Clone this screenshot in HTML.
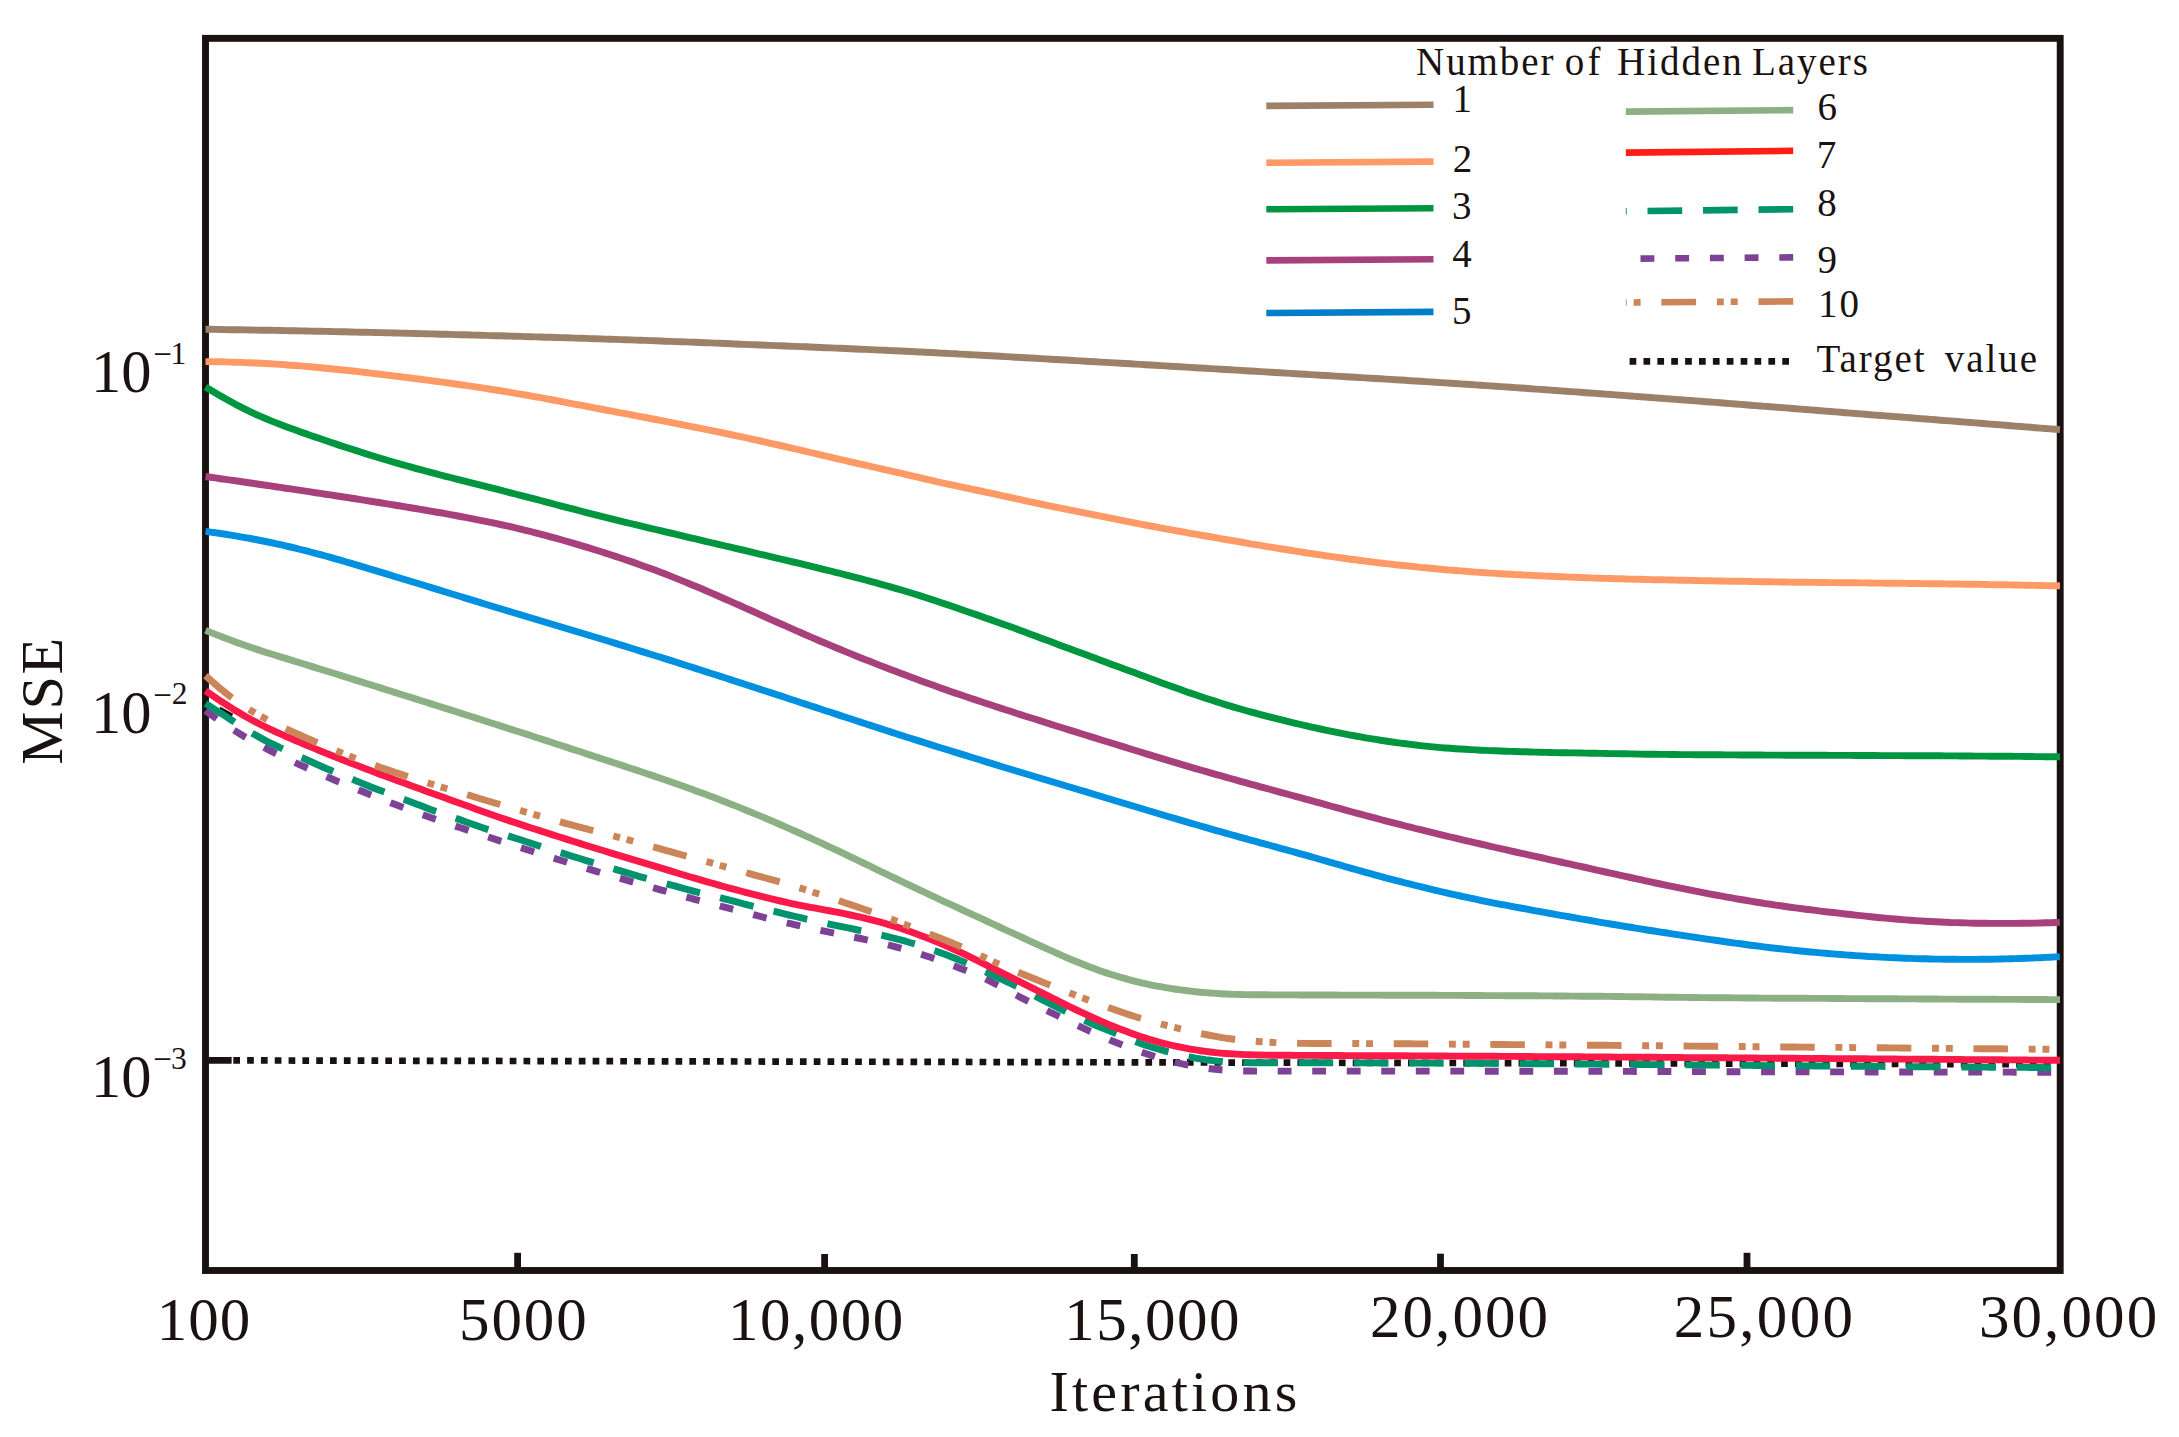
<!DOCTYPE html>
<html lang="en"><head><meta charset="utf-8"><title>MSE vs Iterations</title>
<style>html,body{margin:0;padding:0;background:#fff}svg{display:block}text{font-family:"Liberation Serif","Times New Roman",serif;fill:#1a1210}</style></head><body>
<svg width="2179" height="1437" viewBox="0 0 2179 1437">
<rect width="2179" height="1437" fill="#fff"/>
<rect x="205.5" y="38.35" width="1854.7" height="1232.15" fill="none" stroke="#1a1210" stroke-width="6.9"/>
<line x1="517.6" y1="1268" x2="517.6" y2="1252.8" stroke="#1a1210" stroke-width="6.8"/>
<line x1="824.6" y1="1268" x2="824.6" y2="1254.0" stroke="#1a1210" stroke-width="6.8"/>
<line x1="1134.3" y1="1268" x2="1134.3" y2="1254.0" stroke="#1a1210" stroke-width="6.8"/>
<line x1="1440.5" y1="1268" x2="1440.5" y2="1253.7" stroke="#1a1210" stroke-width="6.8"/>
<line x1="1747.0" y1="1268" x2="1747.0" y2="1252.8" stroke="#1a1210" stroke-width="6.8"/>
<line x1="207" y1="1060.4" x2="231.6" y2="1060.45" stroke="#1a1210" stroke-width="6.8"/>
<line x1="233.3" y1="1060.4" x2="2057" y2="1064.3" stroke="#1a1210" stroke-width="6.7" stroke-dasharray="6.7 7.12"/>
<line x1="219.5" y1="708.6" x2="232.2" y2="715.7" stroke="#1a1210" stroke-width="4.2"/>
<g fill="none" stroke-width="6.94" stroke-linejoin="round">
<path d="M205.5 329.3L210.5 329.3L215.5 329.4L220.5 329.5L225.5 329.6L230.5 329.7L235.5 329.7L240.5 329.8L245.5 329.9L250.5 330.0L255.5 330.1L260.5 330.2L265.5 330.3L270.5 330.3L275.5 330.4L280.5 330.5L285.5 330.6L290.5 330.7L295.5 330.8L300.5 330.9L305.5 331.0L310.5 331.1L315.5 331.2L320.5 331.3L325.5 331.4L330.5 331.5L335.5 331.6L340.5 331.7L345.5 331.8L350.5 332.0L355.5 332.1L360.5 332.2L365.5 332.3L370.5 332.4L375.5 332.5L380.5 332.6L385.5 332.8L390.5 332.9L395.5 333.0L400.5 333.1L405.5 333.3L410.5 333.4L415.5 333.5L420.5 333.6L425.5 333.8L430.5 333.9L435.5 334.0L440.5 334.2L445.5 334.3L450.5 334.4L455.5 334.6L460.5 334.7L465.5 334.8L470.5 335.0L475.5 335.1L480.5 335.3L485.5 335.4L490.5 335.6L495.5 335.7L500.5 335.8L505.5 336.0L510.5 336.1L515.5 336.3L520.5 336.4L525.5 336.6L530.5 336.7L535.5 336.9L540.5 337.0L545.5 337.2L550.5 337.3L555.5 337.5L560.5 337.6L565.5 337.8L570.5 337.9L575.5 338.1L580.5 338.3L585.5 338.4L590.5 338.6L595.5 338.7L600.5 338.9L605.5 339.1L610.5 339.2L615.5 339.4L620.5 339.6L625.5 339.7L630.5 339.9L635.5 340.1L640.5 340.3L645.5 340.4L650.5 340.6L655.5 340.8L660.5 341.0L665.5 341.2L670.5 341.4L675.5 341.6L680.5 341.8L685.5 341.9L690.5 342.1L695.5 342.3L700.5 342.5L705.5 342.7L710.5 342.9L715.5 343.1L720.5 343.3L725.5 343.5L730.5 343.8L735.5 344.0L740.5 344.2L745.5 344.4L750.5 344.6L755.5 344.8L760.5 345.0L765.5 345.2L770.5 345.4L775.5 345.6L780.5 345.8L785.5 346.0L790.5 346.2L795.5 346.4L800.5 346.6L805.5 346.8L810.5 347.0L815.5 347.2L820.5 347.5L825.5 347.7L830.5 347.9L835.5 348.1L840.5 348.3L845.5 348.5L850.5 348.7L855.5 349.0L860.5 349.2L865.5 349.4L870.5 349.6L875.5 349.9L880.5 350.1L885.5 350.3L890.5 350.6L895.5 350.8L900.5 351.0L905.5 351.3L910.5 351.5L915.5 351.8L920.5 352.0L925.5 352.3L930.5 352.5L935.5 352.8L940.5 353.1L945.5 353.3L950.5 353.6L955.5 353.8L960.5 354.1L965.5 354.4L970.5 354.7L975.5 354.9L980.5 355.2L985.5 355.5L990.5 355.8L995.5 356.0L1000.5 356.3L1005.5 356.6L1010.5 356.9L1015.5 357.2L1020.5 357.5L1025.5 357.8L1030.5 358.0L1035.5 358.3L1040.5 358.6L1045.5 358.9L1050.5 359.2L1055.5 359.5L1060.5 359.8L1065.5 360.0L1070.5 360.3L1075.5 360.6L1080.5 360.9L1085.5 361.2L1090.5 361.5L1095.5 361.8L1100.5 362.1L1105.5 362.4L1110.5 362.6L1115.5 362.9L1120.5 363.2L1125.5 363.5L1130.5 363.8L1135.5 364.1L1140.5 364.4L1145.5 364.7L1150.5 365.0L1155.5 365.3L1160.5 365.6L1165.5 365.9L1170.5 366.2L1175.5 366.5L1180.5 366.8L1185.5 367.1L1190.5 367.4L1195.5 367.7L1200.5 368.0L1205.5 368.3L1210.5 368.6L1215.5 368.9L1220.5 369.2L1225.5 369.5L1230.5 369.8L1235.5 370.1L1240.5 370.4L1245.5 370.7L1250.5 371.0L1255.5 371.3L1260.5 371.6L1265.5 371.9L1270.5 372.2L1275.5 372.5L1280.5 372.8L1285.5 373.1L1290.5 373.4L1295.5 373.7L1300.5 374.0L1305.5 374.3L1310.5 374.6L1315.5 374.9L1320.5 375.2L1325.5 375.5L1330.5 375.8L1335.5 376.1L1340.5 376.4L1345.5 376.7L1350.5 377.0L1355.5 377.3L1360.5 377.6L1365.5 377.9L1370.5 378.2L1375.5 378.5L1380.5 378.8L1385.5 379.1L1390.5 379.4L1395.5 379.7L1400.5 380.0L1405.5 380.3L1410.5 380.7L1415.5 381.0L1420.5 381.3L1425.5 381.6L1430.5 381.9L1435.5 382.2L1440.5 382.6L1445.5 382.9L1450.5 383.2L1455.5 383.5L1460.5 383.9L1465.5 384.2L1470.5 384.5L1475.5 384.9L1480.5 385.2L1485.5 385.6L1490.5 385.9L1495.5 386.2L1500.5 386.6L1505.5 386.9L1510.5 387.3L1515.5 387.6L1520.5 388.0L1525.5 388.3L1530.5 388.7L1535.5 389.1L1540.5 389.4L1545.5 389.8L1550.5 390.1L1555.5 390.5L1560.5 390.9L1565.5 391.2L1570.5 391.6L1575.5 391.9L1580.5 392.3L1585.5 392.7L1590.5 393.0L1595.5 393.4L1600.5 393.8L1605.5 394.1L1610.5 394.5L1615.5 394.9L1620.5 395.2L1625.5 395.6L1630.5 396.0L1635.5 396.4L1640.5 396.7L1645.5 397.1L1650.5 397.5L1655.5 397.9L1660.5 398.2L1665.5 398.6L1670.5 399.0L1675.5 399.4L1680.5 399.7L1685.5 400.1L1690.5 400.5L1695.5 400.9L1700.5 401.3L1705.5 401.7L1710.5 402.0L1715.5 402.4L1720.5 402.8L1725.5 403.2L1730.5 403.6L1735.5 404.0L1740.5 404.4L1745.5 404.8L1750.5 405.2L1755.5 405.6L1760.5 406.0L1765.5 406.4L1770.5 406.7L1775.5 407.1L1780.5 407.5L1785.5 407.9L1790.5 408.3L1795.5 408.7L1800.5 409.1L1805.5 409.5L1810.5 409.9L1815.5 410.3L1820.5 410.7L1825.5 411.1L1830.5 411.5L1835.5 411.9L1840.5 412.3L1845.5 412.7L1850.5 413.1L1855.5 413.5L1860.5 413.9L1865.5 414.3L1870.5 414.7L1875.5 415.1L1880.5 415.5L1885.5 415.9L1890.5 416.3L1895.5 416.6L1900.5 417.0L1905.5 417.4L1910.5 417.8L1915.5 418.2L1920.5 418.6L1925.5 419.0L1930.5 419.4L1935.5 419.8L1940.5 420.2L1945.5 420.6L1950.5 420.9L1955.5 421.3L1960.5 421.7L1965.5 422.1L1970.5 422.5L1975.5 422.9L1980.5 423.3L1985.5 423.7L1990.5 424.1L1995.5 424.5L2000.5 424.9L2005.5 425.3L2010.5 425.7L2015.5 426.1L2020.5 426.5L2025.5 426.9L2030.5 427.3L2035.5 427.7L2040.5 428.1L2045.5 428.5L2050.5 428.9L2055.5 429.3L2060.0 429.6" stroke="#9c8068"/>
<path d="M205.5 361.6L210.5 361.6L215.5 361.7L220.5 361.8L225.5 361.9L230.5 362.1L235.5 362.2L240.5 362.4L245.5 362.6L250.5 362.8L255.5 363.0L260.5 363.3L265.5 363.5L270.5 363.8L275.5 364.1L280.5 364.4L285.5 364.8L290.5 365.2L295.5 365.5L300.5 365.9L305.5 366.4L310.5 366.8L315.5 367.2L320.5 367.7L325.5 368.2L330.5 368.7L335.5 369.2L340.5 369.7L345.5 370.2L350.5 370.8L355.5 371.3L360.5 371.9L365.5 372.5L370.5 373.1L375.5 373.7L380.5 374.3L385.5 374.9L390.5 375.5L395.5 376.1L400.5 376.7L405.5 377.4L410.5 378.0L415.5 378.6L420.5 379.3L425.5 379.9L430.5 380.6L435.5 381.3L440.5 381.9L445.5 382.6L450.5 383.3L455.5 384.0L460.5 384.7L465.5 385.4L470.5 386.1L475.5 386.9L480.5 387.6L485.5 388.4L490.5 389.2L495.5 390.0L500.5 390.8L505.5 391.6L510.5 392.4L515.5 393.3L520.5 394.1L525.5 395.0L530.5 395.9L535.5 396.8L540.5 397.7L545.5 398.6L550.5 399.5L555.5 400.5L560.5 401.4L565.5 402.4L570.5 403.3L575.5 404.3L580.5 405.2L585.5 406.2L590.5 407.1L595.5 408.1L600.5 409.0L605.5 410.0L610.5 410.9L615.5 411.9L620.5 412.8L625.5 413.7L630.5 414.7L635.5 415.6L640.5 416.6L645.5 417.5L650.5 418.5L655.5 419.5L660.5 420.4L665.5 421.4L670.5 422.4L675.5 423.3L680.5 424.3L685.5 425.3L690.5 426.3L695.5 427.3L700.5 428.3L705.5 429.3L710.5 430.3L715.5 431.4L720.5 432.4L725.5 433.5L730.5 434.5L735.5 435.6L740.5 436.7L745.5 437.7L750.5 438.8L755.5 439.9L760.5 441.0L765.5 442.1L770.5 443.3L775.5 444.4L780.5 445.5L785.5 446.7L790.5 447.8L795.5 449.0L800.5 450.2L805.5 451.3L810.5 452.5L815.5 453.7L820.5 454.8L825.5 456.0L830.5 457.2L835.5 458.3L840.5 459.5L845.5 460.6L850.5 461.8L855.5 462.9L860.5 464.1L865.5 465.2L870.5 466.3L875.5 467.5L880.5 468.6L885.5 469.8L890.5 470.9L895.5 472.1L900.5 473.2L905.5 474.4L910.5 475.6L915.5 476.7L920.5 477.9L925.5 479.1L930.5 480.2L935.5 481.3L940.5 482.5L945.5 483.6L950.5 484.7L955.5 485.7L960.5 486.8L965.5 487.9L970.5 488.9L975.5 490.0L980.5 491.0L985.5 492.1L990.5 493.1L995.5 494.2L1000.5 495.3L1005.5 496.4L1010.5 497.5L1015.5 498.6L1020.5 499.7L1025.5 500.8L1030.5 501.8L1035.5 502.9L1040.5 504.0L1045.5 505.1L1050.5 506.1L1055.5 507.2L1060.5 508.2L1065.5 509.2L1070.5 510.2L1075.5 511.2L1080.5 512.2L1085.5 513.2L1090.5 514.2L1095.5 515.2L1100.5 516.2L1105.5 517.1L1110.5 518.1L1115.5 519.1L1120.5 520.1L1125.5 521.1L1130.5 522.1L1135.5 523.1L1140.5 524.1L1145.5 525.0L1150.5 526.0L1155.5 526.9L1160.5 527.9L1165.5 528.8L1170.5 529.7L1175.5 530.6L1180.5 531.5L1185.5 532.4L1190.5 533.3L1195.5 534.2L1200.5 535.1L1205.5 536.0L1210.5 536.8L1215.5 537.7L1220.5 538.6L1225.5 539.5L1230.5 540.3L1235.5 541.2L1240.5 542.0L1245.5 542.9L1250.5 543.8L1255.5 544.6L1260.5 545.4L1265.5 546.3L1270.5 547.1L1275.5 547.9L1280.5 548.7L1285.5 549.5L1290.5 550.3L1295.5 551.1L1300.5 551.9L1305.5 552.7L1310.5 553.4L1315.5 554.2L1320.5 554.9L1325.5 555.7L1330.5 556.4L1335.5 557.1L1340.5 557.8L1345.5 558.5L1350.5 559.2L1355.5 559.8L1360.5 560.5L1365.5 561.1L1370.5 561.7L1375.5 562.4L1380.5 563.0L1385.5 563.6L1390.5 564.1L1395.5 564.7L1400.5 565.3L1405.5 565.8L1410.5 566.3L1415.5 566.8L1420.5 567.4L1425.5 567.8L1430.5 568.3L1435.5 568.8L1440.5 569.2L1445.5 569.7L1450.5 570.1L1455.5 570.5L1460.5 570.9L1465.5 571.3L1470.5 571.7L1475.5 572.1L1480.5 572.4L1485.5 572.7L1490.5 573.1L1495.5 573.4L1500.5 573.7L1505.5 574.0L1510.5 574.3L1515.5 574.6L1520.5 574.8L1525.5 575.1L1530.5 575.3L1535.5 575.6L1540.5 575.8L1545.5 576.1L1550.5 576.3L1555.5 576.5L1560.5 576.7L1565.5 576.9L1570.5 577.1L1575.5 577.3L1580.5 577.5L1585.5 577.7L1590.5 577.9L1595.5 578.1L1600.5 578.2L1605.5 578.4L1610.5 578.5L1615.5 578.7L1620.5 578.8L1625.5 579.0L1630.5 579.1L1635.5 579.2L1640.5 579.3L1645.5 579.5L1650.5 579.6L1655.5 579.7L1660.5 579.8L1665.5 579.9L1670.5 580.0L1675.5 580.1L1680.5 580.2L1685.5 580.3L1690.5 580.4L1695.5 580.5L1700.5 580.6L1705.5 580.7L1710.5 580.8L1715.5 580.9L1720.5 581.0L1725.5 581.1L1730.5 581.2L1735.5 581.3L1740.5 581.3L1745.5 581.4L1750.5 581.5L1755.5 581.6L1760.5 581.7L1765.5 581.7L1770.5 581.8L1775.5 581.9L1780.5 582.0L1785.5 582.0L1790.5 582.1L1795.5 582.2L1800.5 582.2L1805.5 582.3L1810.5 582.4L1815.5 582.4L1820.5 582.5L1825.5 582.5L1830.5 582.6L1835.5 582.6L1840.5 582.7L1845.5 582.7L1850.5 582.8L1855.5 582.8L1860.5 582.9L1865.5 582.9L1870.5 583.0L1875.5 583.1L1880.5 583.1L1885.5 583.2L1890.5 583.2L1895.5 583.3L1900.5 583.3L1905.5 583.4L1910.5 583.5L1915.5 583.5L1920.5 583.6L1925.5 583.6L1930.5 583.7L1935.5 583.8L1940.5 583.8L1945.5 583.9L1950.5 584.0L1955.5 584.0L1960.5 584.1L1965.5 584.2L1970.5 584.3L1975.5 584.3L1980.5 584.4L1985.5 584.5L1990.5 584.6L1995.5 584.7L2000.5 584.8L2005.5 584.8L2010.5 584.9L2015.5 585.0L2020.5 585.1L2025.5 585.2L2030.5 585.3L2035.5 585.4L2040.5 585.5L2045.5 585.6L2050.5 585.7L2055.5 585.8L2060.0 585.9" stroke="#ff9966"/>
<path d="M205.5 387.0L210.5 390.0L215.5 392.9L220.5 395.9L225.5 398.7L230.5 401.5L235.5 404.3L240.5 406.9L245.5 409.4L250.5 411.8L255.5 414.2L260.5 416.4L265.5 418.5L270.5 420.6L275.5 422.6L280.5 424.5L285.5 426.4L290.5 428.2L295.5 430.1L300.5 431.9L305.5 433.6L310.5 435.4L315.5 437.1L320.5 438.8L325.5 440.5L330.5 442.2L335.5 443.9L340.5 445.6L345.5 447.2L350.5 448.8L355.5 450.4L360.5 452.0L365.5 453.6L370.5 455.2L375.5 456.7L380.5 458.2L385.5 459.7L390.5 461.2L395.5 462.7L400.5 464.1L405.5 465.5L410.5 466.9L415.5 468.3L420.5 469.7L425.5 471.0L430.5 472.3L435.5 473.7L440.5 475.0L445.5 476.3L450.5 477.5L455.5 478.8L460.5 480.1L465.5 481.4L470.5 482.6L475.5 483.9L480.5 485.1L485.5 486.4L490.5 487.7L495.5 488.9L500.5 490.2L505.5 491.5L510.5 492.8L515.5 494.0L520.5 495.3L525.5 496.6L530.5 497.9L535.5 499.2L540.5 500.5L545.5 501.9L550.5 503.2L555.5 504.5L560.5 505.8L565.5 507.1L570.5 508.4L575.5 509.7L580.5 511.0L585.5 512.3L590.5 513.6L595.5 514.9L600.5 516.2L605.5 517.4L610.5 518.7L615.5 519.9L620.5 521.1L625.5 522.3L630.5 523.5L635.5 524.7L640.5 525.9L645.5 527.1L650.5 528.3L655.5 529.5L660.5 530.7L665.5 531.9L670.5 533.0L675.5 534.2L680.5 535.4L685.5 536.6L690.5 537.8L695.5 538.9L700.5 540.1L705.5 541.3L710.5 542.5L715.5 543.7L720.5 544.8L725.5 546.0L730.5 547.2L735.5 548.4L740.5 549.5L745.5 550.7L750.5 551.9L755.5 553.1L760.5 554.3L765.5 555.4L770.5 556.6L775.5 557.8L780.5 559.0L785.5 560.2L790.5 561.4L795.5 562.5L800.5 563.7L805.5 564.9L810.5 566.1L815.5 567.3L820.5 568.6L825.5 569.8L830.5 571.0L835.5 572.3L840.5 573.5L845.5 574.8L850.5 576.1L855.5 577.4L860.5 578.7L865.5 580.0L870.5 581.4L875.5 582.7L880.5 584.1L885.5 585.5L890.5 586.9L895.5 588.3L900.5 589.8L905.5 591.3L910.5 592.8L915.5 594.3L920.5 595.9L925.5 597.5L930.5 599.1L935.5 600.8L940.5 602.5L945.5 604.1L950.5 605.8L955.5 607.5L960.5 609.3L965.5 611.0L970.5 612.7L975.5 614.4L980.5 616.1L985.5 617.9L990.5 619.6L995.5 621.4L1000.5 623.2L1005.5 625.0L1010.5 626.8L1015.5 628.6L1020.5 630.5L1025.5 632.3L1030.5 634.2L1035.5 636.0L1040.5 637.9L1045.5 639.8L1050.5 641.6L1055.5 643.5L1060.5 645.4L1065.5 647.2L1070.5 649.1L1075.5 650.9L1080.5 652.8L1085.5 654.6L1090.5 656.5L1095.5 658.3L1100.5 660.2L1105.5 662.0L1110.5 663.9L1115.5 665.7L1120.5 667.6L1125.5 669.4L1130.5 671.3L1135.5 673.1L1140.5 675.0L1145.5 676.8L1150.5 678.7L1155.5 680.5L1160.5 682.4L1165.5 684.2L1170.5 686.0L1175.5 687.8L1180.5 689.6L1185.5 691.4L1190.5 693.1L1195.5 694.8L1200.5 696.5L1205.5 698.2L1210.5 699.8L1215.5 701.4L1220.5 703.0L1225.5 704.6L1230.5 706.1L1235.5 707.6L1240.5 709.0L1245.5 710.5L1250.5 711.8L1255.5 713.2L1260.5 714.6L1265.5 715.9L1270.5 717.2L1275.5 718.4L1280.5 719.7L1285.5 720.9L1290.5 722.1L1295.5 723.3L1300.5 724.5L1305.5 725.6L1310.5 726.8L1315.5 727.9L1320.5 729.0L1325.5 730.1L1330.5 731.1L1335.5 732.2L1340.5 733.2L1345.5 734.1L1350.5 735.1L1355.5 736.0L1360.5 736.9L1365.5 737.8L1370.5 738.6L1375.5 739.4L1380.5 740.2L1385.5 741.0L1390.5 741.7L1395.5 742.5L1400.5 743.1L1405.5 743.8L1410.5 744.4L1415.5 745.0L1420.5 745.6L1425.5 746.1L1430.5 746.6L1435.5 747.1L1440.5 747.6L1445.5 748.0L1450.5 748.3L1455.5 748.7L1460.5 749.0L1465.5 749.3L1470.5 749.6L1475.5 749.9L1480.5 750.2L1485.5 750.4L1490.5 750.6L1495.5 750.8L1500.5 751.0L1505.5 751.2L1510.5 751.4L1515.5 751.5L1520.5 751.7L1525.5 751.8L1530.5 752.0L1535.5 752.1L1540.5 752.2L1545.5 752.4L1550.5 752.5L1555.5 752.6L1560.5 752.7L1565.5 752.8L1570.5 752.9L1575.5 752.9L1580.5 753.0L1585.5 753.1L1590.5 753.2L1595.5 753.3L1600.5 753.4L1605.5 753.5L1610.5 753.6L1615.5 753.6L1620.5 753.7L1625.5 753.8L1630.5 753.9L1635.5 754.0L1640.5 754.1L1645.5 754.2L1650.5 754.2L1655.5 754.3L1660.5 754.4L1665.5 754.4L1670.5 754.5L1675.5 754.5L1680.5 754.6L1685.5 754.6L1690.5 754.6L1695.5 754.7L1700.5 754.7L1705.5 754.8L1710.5 754.8L1715.5 754.8L1720.5 754.8L1725.5 754.9L1730.5 754.9L1735.5 754.9L1740.5 755.0L1745.5 755.0L1750.5 755.0L1755.5 755.0L1760.5 755.0L1765.5 755.1L1770.5 755.1L1775.5 755.1L1780.5 755.1L1785.5 755.2L1790.5 755.2L1795.5 755.2L1800.5 755.2L1805.5 755.3L1810.5 755.3L1815.5 755.3L1820.5 755.3L1825.5 755.3L1830.5 755.4L1835.5 755.4L1840.5 755.4L1845.5 755.4L1850.5 755.4L1855.5 755.5L1860.5 755.5L1865.5 755.5L1870.5 755.5L1875.5 755.5L1880.5 755.6L1885.5 755.6L1890.5 755.6L1895.5 755.6L1900.5 755.6L1905.5 755.7L1910.5 755.7L1915.5 755.7L1920.5 755.7L1925.5 755.8L1930.5 755.8L1935.5 755.8L1940.5 755.8L1945.5 755.9L1950.5 755.9L1955.5 755.9L1960.5 756.0L1965.5 756.0L1970.5 756.0L1975.5 756.1L1980.5 756.1L1985.5 756.1L1990.5 756.2L1995.5 756.2L2000.5 756.3L2005.5 756.3L2010.5 756.3L2015.5 756.4L2020.5 756.4L2025.5 756.5L2030.5 756.5L2035.5 756.6L2040.5 756.6L2045.5 756.7L2050.5 756.7L2055.5 756.8L2060.0 756.8" stroke="#009640"/>
<path d="M205.5 476.5L210.5 477.2L215.5 477.9L220.5 478.7L225.5 479.4L230.5 480.1L235.5 480.8L240.5 481.5L245.5 482.3L250.5 483.0L255.5 483.7L260.5 484.5L265.5 485.2L270.5 485.9L275.5 486.7L280.5 487.4L285.5 488.2L290.5 488.9L295.5 489.6L300.5 490.4L305.5 491.1L310.5 491.9L315.5 492.7L320.5 493.4L325.5 494.2L330.5 494.9L335.5 495.7L340.5 496.5L345.5 497.2L350.5 498.0L355.5 498.8L360.5 499.6L365.5 500.4L370.5 501.2L375.5 502.0L380.5 502.8L385.5 503.6L390.5 504.4L395.5 505.2L400.5 506.0L405.5 506.9L410.5 507.7L415.5 508.5L420.5 509.4L425.5 510.2L430.5 511.1L435.5 512.0L440.5 512.8L445.5 513.7L450.5 514.6L455.5 515.5L460.5 516.5L465.5 517.4L470.5 518.3L475.5 519.3L480.5 520.3L485.5 521.3L490.5 522.3L495.5 523.4L500.5 524.5L505.5 525.6L510.5 526.7L515.5 527.9L520.5 529.1L525.5 530.3L530.5 531.5L535.5 532.8L540.5 534.1L545.5 535.4L550.5 536.8L555.5 538.1L560.5 539.5L565.5 541.0L570.5 542.4L575.5 543.9L580.5 545.4L585.5 546.9L590.5 548.4L595.5 550.0L600.5 551.5L605.5 553.1L610.5 554.7L615.5 556.4L620.5 558.0L625.5 559.7L630.5 561.4L635.5 563.1L640.5 564.9L645.5 566.7L650.5 568.5L655.5 570.3L660.5 572.2L665.5 574.1L670.5 576.1L675.5 578.1L680.5 580.1L685.5 582.1L690.5 584.2L695.5 586.2L700.5 588.3L705.5 590.5L710.5 592.6L715.5 594.8L720.5 597.0L725.5 599.2L730.5 601.4L735.5 603.6L740.5 605.8L745.5 608.1L750.5 610.3L755.5 612.5L760.5 614.8L765.5 617.0L770.5 619.3L775.5 621.5L780.5 623.7L785.5 625.9L790.5 628.2L795.5 630.4L800.5 632.5L805.5 634.7L810.5 636.9L815.5 639.0L820.5 641.2L825.5 643.3L830.5 645.4L835.5 647.5L840.5 649.5L845.5 651.6L850.5 653.6L855.5 655.7L860.5 657.7L865.5 659.7L870.5 661.6L875.5 663.6L880.5 665.6L885.5 667.5L890.5 669.4L895.5 671.3L900.5 673.2L905.5 675.1L910.5 677.0L915.5 678.8L920.5 680.7L925.5 682.5L930.5 684.3L935.5 686.1L940.5 687.9L945.5 689.6L950.5 691.4L955.5 693.1L960.5 694.8L965.5 696.5L970.5 698.2L975.5 699.9L980.5 701.5L985.5 703.2L990.5 704.8L995.5 706.5L1000.5 708.1L1005.5 709.7L1010.5 711.3L1015.5 713.0L1020.5 714.6L1025.5 716.2L1030.5 717.8L1035.5 719.3L1040.5 720.9L1045.5 722.5L1050.5 724.1L1055.5 725.7L1060.5 727.2L1065.5 728.8L1070.5 730.4L1075.5 731.9L1080.5 733.5L1085.5 735.0L1090.5 736.6L1095.5 738.1L1100.5 739.7L1105.5 741.2L1110.5 742.8L1115.5 744.3L1120.5 745.9L1125.5 747.4L1130.5 749.0L1135.5 750.5L1140.5 752.0L1145.5 753.6L1150.5 755.1L1155.5 756.6L1160.5 758.1L1165.5 759.6L1170.5 761.1L1175.5 762.6L1180.5 764.1L1185.5 765.6L1190.5 767.1L1195.5 768.6L1200.5 770.0L1205.5 771.4L1210.5 772.9L1215.5 774.3L1220.5 775.7L1225.5 777.1L1230.5 778.5L1235.5 779.9L1240.5 781.3L1245.5 782.7L1250.5 784.1L1255.5 785.4L1260.5 786.8L1265.5 788.2L1270.5 789.5L1275.5 790.9L1280.5 792.3L1285.5 793.6L1290.5 795.0L1295.5 796.3L1300.5 797.7L1305.5 799.1L1310.5 800.4L1315.5 801.8L1320.5 803.2L1325.5 804.6L1330.5 806.0L1335.5 807.3L1340.5 808.7L1345.5 810.1L1350.5 811.5L1355.5 812.8L1360.5 814.2L1365.5 815.5L1370.5 816.9L1375.5 818.2L1380.5 819.5L1385.5 820.8L1390.5 822.1L1395.5 823.4L1400.5 824.7L1405.5 826.0L1410.5 827.2L1415.5 828.5L1420.5 829.7L1425.5 830.9L1430.5 832.2L1435.5 833.4L1440.5 834.6L1445.5 835.8L1450.5 837.0L1455.5 838.2L1460.5 839.4L1465.5 840.6L1470.5 841.7L1475.5 842.9L1480.5 844.0L1485.5 845.2L1490.5 846.3L1495.5 847.5L1500.5 848.6L1505.5 849.7L1510.5 850.9L1515.5 852.0L1520.5 853.1L1525.5 854.2L1530.5 855.3L1535.5 856.4L1540.5 857.5L1545.5 858.6L1550.5 859.8L1555.5 860.9L1560.5 862.0L1565.5 863.1L1570.5 864.2L1575.5 865.3L1580.5 866.4L1585.5 867.5L1590.5 868.7L1595.5 869.8L1600.5 870.9L1605.5 872.0L1610.5 873.1L1615.5 874.2L1620.5 875.3L1625.5 876.4L1630.5 877.5L1635.5 878.6L1640.5 879.7L1645.5 880.8L1650.5 881.9L1655.5 883.0L1660.5 884.0L1665.5 885.1L1670.5 886.1L1675.5 887.1L1680.5 888.2L1685.5 889.2L1690.5 890.2L1695.5 891.2L1700.5 892.1L1705.5 893.1L1710.5 894.1L1715.5 895.0L1720.5 895.9L1725.5 896.8L1730.5 897.7L1735.5 898.6L1740.5 899.5L1745.5 900.3L1750.5 901.2L1755.5 902.0L1760.5 902.8L1765.5 903.6L1770.5 904.3L1775.5 905.1L1780.5 905.8L1785.5 906.5L1790.5 907.2L1795.5 907.9L1800.5 908.5L1805.5 909.2L1810.5 909.8L1815.5 910.4L1820.5 911.1L1825.5 911.7L1830.5 912.2L1835.5 912.8L1840.5 913.4L1845.5 914.0L1850.5 914.5L1855.5 915.1L1860.5 915.6L1865.5 916.1L1870.5 916.7L1875.5 917.2L1880.5 917.7L1885.5 918.1L1890.5 918.6L1895.5 919.0L1900.5 919.5L1905.5 919.9L1910.5 920.2L1915.5 920.6L1920.5 920.9L1925.5 921.2L1930.5 921.5L1935.5 921.8L1940.5 922.0L1945.5 922.2L1950.5 922.5L1955.5 922.6L1960.5 922.8L1965.5 922.9L1970.5 923.1L1975.5 923.2L1980.5 923.2L1985.5 923.3L1990.5 923.4L1995.5 923.4L2000.5 923.4L2005.5 923.4L2010.5 923.4L2015.5 923.4L2020.5 923.3L2025.5 923.3L2030.5 923.2L2035.5 923.1L2040.5 923.0L2045.5 922.8L2050.5 922.7L2055.5 922.5L2059.8 922.4" stroke="#a8407c"/>
<path d="M205.5 531.4L210.5 532.1L215.5 532.8L220.5 533.5L225.5 534.3L230.5 535.1L235.5 535.9L240.5 536.8L245.5 537.6L250.5 538.5L255.5 539.5L260.5 540.5L265.5 541.5L270.5 542.5L275.5 543.6L280.5 544.7L285.5 545.9L290.5 547.0L295.5 548.2L300.5 549.5L305.5 550.7L310.5 552.0L315.5 553.3L320.5 554.7L325.5 556.0L330.5 557.4L335.5 558.8L340.5 560.2L345.5 561.7L350.5 563.1L355.5 564.6L360.5 566.1L365.5 567.6L370.5 569.1L375.5 570.6L380.5 572.1L385.5 573.6L390.5 575.1L395.5 576.7L400.5 578.2L405.5 579.7L410.5 581.2L415.5 582.8L420.5 584.3L425.5 585.8L430.5 587.4L435.5 588.9L440.5 590.4L445.5 592.0L450.5 593.5L455.5 595.0L460.5 596.5L465.5 598.1L470.5 599.6L475.5 601.1L480.5 602.6L485.5 604.2L490.5 605.7L495.5 607.2L500.5 608.7L505.5 610.2L510.5 611.7L515.5 613.2L520.5 614.7L525.5 616.2L530.5 617.7L535.5 619.2L540.5 620.7L545.5 622.2L550.5 623.7L555.5 625.2L560.5 626.7L565.5 628.2L570.5 629.7L575.5 631.2L580.5 632.7L585.5 634.2L590.5 635.8L595.5 637.3L600.5 638.8L605.5 640.3L610.5 641.8L615.5 643.4L620.5 644.9L625.5 646.4L630.5 648.0L635.5 649.5L640.5 651.1L645.5 652.6L650.5 654.2L655.5 655.7L660.5 657.3L665.5 658.9L670.5 660.4L675.5 662.0L680.5 663.6L685.5 665.2L690.5 666.8L695.5 668.4L700.5 670.0L705.5 671.6L710.5 673.2L715.5 674.8L720.5 676.4L725.5 678.0L730.5 679.6L735.5 681.3L740.5 682.9L745.5 684.5L750.5 686.1L755.5 687.8L760.5 689.4L765.5 691.0L770.5 692.6L775.5 694.3L780.5 695.9L785.5 697.5L790.5 699.2L795.5 700.8L800.5 702.5L805.5 704.1L810.5 705.7L815.5 707.4L820.5 709.0L825.5 710.7L830.5 712.3L835.5 713.9L840.5 715.6L845.5 717.2L850.5 718.8L855.5 720.5L860.5 722.1L865.5 723.7L870.5 725.4L875.5 727.0L880.5 728.6L885.5 730.2L890.5 731.9L895.5 733.5L900.5 735.1L905.5 736.7L910.5 738.3L915.5 739.9L920.5 741.4L925.5 743.0L930.5 744.6L935.5 746.2L940.5 747.7L945.5 749.3L950.5 750.8L955.5 752.4L960.5 753.9L965.5 755.4L970.5 757.0L975.5 758.5L980.5 760.0L985.5 761.6L990.5 763.1L995.5 764.6L1000.5 766.2L1005.5 767.7L1010.5 769.2L1015.5 770.8L1020.5 772.3L1025.5 773.8L1030.5 775.3L1035.5 776.8L1040.5 778.3L1045.5 779.8L1050.5 781.3L1055.5 782.8L1060.5 784.3L1065.5 785.8L1070.5 787.3L1075.5 788.8L1080.5 790.3L1085.5 791.7L1090.5 793.2L1095.5 794.7L1100.5 796.2L1105.5 797.7L1110.5 799.2L1115.5 800.7L1120.5 802.2L1125.5 803.7L1130.5 805.2L1135.5 806.7L1140.5 808.2L1145.5 809.7L1150.5 811.2L1155.5 812.7L1160.5 814.2L1165.5 815.7L1170.5 817.2L1175.5 818.6L1180.5 820.1L1185.5 821.6L1190.5 823.1L1195.5 824.5L1200.5 826.0L1205.5 827.4L1210.5 828.9L1215.5 830.3L1220.5 831.7L1225.5 833.1L1230.5 834.5L1235.5 835.9L1240.5 837.3L1245.5 838.7L1250.5 840.1L1255.5 841.4L1260.5 842.8L1265.5 844.2L1270.5 845.5L1275.5 846.9L1280.5 848.3L1285.5 849.6L1290.5 851.0L1295.5 852.4L1300.5 853.8L1305.5 855.2L1310.5 856.6L1315.5 858.0L1320.5 859.5L1325.5 860.9L1330.5 862.3L1335.5 863.8L1340.5 865.2L1345.5 866.7L1350.5 868.1L1355.5 869.5L1360.5 870.9L1365.5 872.3L1370.5 873.7L1375.5 875.1L1380.5 876.4L1385.5 877.8L1390.5 879.1L1395.5 880.4L1400.5 881.7L1405.5 883.0L1410.5 884.2L1415.5 885.5L1420.5 886.7L1425.5 887.9L1430.5 889.1L1435.5 890.3L1440.5 891.5L1445.5 892.6L1450.5 893.8L1455.5 894.9L1460.5 896.0L1465.5 897.1L1470.5 898.2L1475.5 899.2L1480.5 900.3L1485.5 901.3L1490.5 902.3L1495.5 903.3L1500.5 904.3L1505.5 905.2L1510.5 906.2L1515.5 907.1L1520.5 908.0L1525.5 908.9L1530.5 909.9L1535.5 910.8L1540.5 911.7L1545.5 912.6L1550.5 913.5L1555.5 914.4L1560.5 915.3L1565.5 916.1L1570.5 917.0L1575.5 917.9L1580.5 918.8L1585.5 919.7L1590.5 920.5L1595.5 921.4L1600.5 922.3L1605.5 923.1L1610.5 924.0L1615.5 924.8L1620.5 925.6L1625.5 926.5L1630.5 927.3L1635.5 928.1L1640.5 928.9L1645.5 929.7L1650.5 930.5L1655.5 931.3L1660.5 932.1L1665.5 932.8L1670.5 933.6L1675.5 934.4L1680.5 935.1L1685.5 935.9L1690.5 936.6L1695.5 937.4L1700.5 938.1L1705.5 938.9L1710.5 939.6L1715.5 940.3L1720.5 941.0L1725.5 941.8L1730.5 942.5L1735.5 943.1L1740.5 943.8L1745.5 944.5L1750.5 945.2L1755.5 945.8L1760.5 946.4L1765.5 947.1L1770.5 947.7L1775.5 948.2L1780.5 948.8L1785.5 949.4L1790.5 949.9L1795.5 950.5L1800.5 951.0L1805.5 951.5L1810.5 952.0L1815.5 952.4L1820.5 952.9L1825.5 953.3L1830.5 953.7L1835.5 954.1L1840.5 954.5L1845.5 954.9L1850.5 955.3L1855.5 955.6L1860.5 955.9L1865.5 956.3L1870.5 956.6L1875.5 956.8L1880.5 957.1L1885.5 957.4L1890.5 957.6L1895.5 957.8L1900.5 958.0L1905.5 958.2L1910.5 958.4L1915.5 958.6L1920.5 958.7L1925.5 958.8L1930.5 959.0L1935.5 959.1L1940.5 959.1L1945.5 959.2L1950.5 959.3L1955.5 959.3L1960.5 959.4L1965.5 959.4L1970.5 959.4L1975.5 959.4L1980.5 959.3L1985.5 959.3L1990.5 959.2L1995.5 959.1L2000.5 959.0L2005.5 958.9L2010.5 958.8L2015.5 958.6L2020.5 958.5L2025.5 958.3L2030.5 958.1L2035.5 957.9L2040.5 957.7L2045.5 957.4L2050.5 957.2L2055.5 956.9L2059.8 956.7" stroke="#0090e0"/>
<path d="M205.5 630.4L210.5 632.4L215.5 634.4L220.5 636.3L225.5 638.3L230.5 640.1L235.5 642.0L240.5 643.8L245.5 645.5L250.5 647.3L255.5 648.9L260.5 650.6L265.5 652.2L270.5 653.8L275.5 655.3L280.5 656.9L285.5 658.4L290.5 659.9L295.5 661.5L300.5 663.0L305.5 664.5L310.5 666.1L315.5 667.6L320.5 669.2L325.5 670.7L330.5 672.3L335.5 673.8L340.5 675.4L345.5 677.0L350.5 678.5L355.5 680.1L360.5 681.6L365.5 683.2L370.5 684.8L375.5 686.3L380.5 687.9L385.5 689.5L390.5 691.0L395.5 692.6L400.5 694.2L405.5 695.7L410.5 697.3L415.5 698.9L420.5 700.5L425.5 702.0L430.5 703.6L435.5 705.2L440.5 706.8L445.5 708.4L450.5 709.9L455.5 711.5L460.5 713.1L465.5 714.7L470.5 716.3L475.5 717.9L480.5 719.5L485.5 721.1L490.5 722.7L495.5 724.3L500.5 725.9L505.5 727.5L510.5 729.1L515.5 730.7L520.5 732.3L525.5 733.9L530.5 735.5L535.5 737.2L540.5 738.8L545.5 740.4L550.5 742.0L555.5 743.7L560.5 745.3L565.5 746.9L570.5 748.6L575.5 750.2L580.5 751.8L585.5 753.5L590.5 755.1L595.5 756.7L600.5 758.4L605.5 760.0L610.5 761.6L615.5 763.3L620.5 764.9L625.5 766.6L630.5 768.2L635.5 769.9L640.5 771.5L645.5 773.2L650.5 774.9L655.5 776.6L660.5 778.3L665.5 780.0L670.5 781.8L675.5 783.5L680.5 785.3L685.5 787.0L690.5 788.8L695.5 790.7L700.5 792.5L705.5 794.3L710.5 796.2L715.5 798.1L720.5 800.0L725.5 802.0L730.5 803.9L735.5 805.9L740.5 807.9L745.5 810.0L750.5 812.0L755.5 814.1L760.5 816.1L765.5 818.2L770.5 820.4L775.5 822.5L780.5 824.7L785.5 826.9L790.5 829.1L795.5 831.3L800.5 833.5L805.5 835.8L810.5 838.0L815.5 840.3L820.5 842.6L825.5 845.0L830.5 847.3L835.5 849.7L840.5 852.0L845.5 854.4L850.5 856.8L855.5 859.2L860.5 861.6L865.5 864.0L870.5 866.4L875.5 868.8L880.5 871.3L885.5 873.7L890.5 876.1L895.5 878.5L900.5 880.9L905.5 883.3L910.5 885.7L915.5 888.0L920.5 890.4L925.5 892.7L930.5 895.1L935.5 897.4L940.5 899.8L945.5 902.1L950.5 904.4L955.5 906.7L960.5 909.0L965.5 911.3L970.5 913.6L975.5 915.9L980.5 918.2L985.5 920.5L990.5 922.8L995.5 925.1L1000.5 927.5L1005.5 929.8L1010.5 932.1L1015.5 934.4L1020.5 936.7L1025.5 939.0L1030.5 941.3L1035.5 943.6L1040.5 945.9L1045.5 948.2L1050.5 950.4L1055.5 952.7L1060.5 954.9L1065.5 957.1L1070.5 959.2L1075.5 961.3L1080.5 963.3L1085.5 965.3L1090.5 967.2L1095.5 969.1L1100.5 970.9L1105.5 972.6L1110.5 974.3L1115.5 975.8L1120.5 977.3L1125.5 978.7L1130.5 980.1L1135.5 981.4L1140.5 982.6L1145.5 983.7L1150.5 984.8L1155.5 985.8L1160.5 986.7L1165.5 987.6L1170.5 988.4L1175.5 989.2L1180.5 989.9L1185.5 990.5L1190.5 991.1L1195.5 991.7L1200.5 992.2L1205.5 992.6L1210.5 993.0L1215.5 993.4L1220.5 993.7L1225.5 994.0L1230.5 994.2L1235.5 994.4L1240.5 994.5L1245.5 994.6L1250.5 994.7L1255.5 994.7L1260.5 994.8L1265.5 994.8L1270.5 994.9L1275.5 994.9L1280.5 994.9L1285.5 994.9L1290.5 994.9L1295.5 994.9L1300.5 995.0L1305.5 995.0L1310.5 995.0L1315.5 995.0L1320.5 995.0L1325.5 995.0L1330.5 995.0L1335.5 995.0L1340.5 995.1L1345.5 995.1L1350.5 995.1L1355.5 995.1L1360.5 995.1L1365.5 995.1L1370.5 995.1L1375.5 995.1L1380.5 995.1L1385.5 995.2L1390.5 995.2L1395.5 995.2L1400.5 995.2L1405.5 995.2L1410.5 995.2L1415.5 995.3L1420.5 995.3L1425.5 995.3L1430.5 995.3L1435.5 995.3L1440.5 995.4L1445.5 995.4L1450.5 995.4L1455.5 995.4L1460.5 995.4L1465.5 995.5L1470.5 995.5L1475.5 995.5L1480.5 995.5L1485.5 995.6L1490.5 995.6L1495.5 995.6L1500.5 995.6L1505.5 995.7L1510.5 995.7L1515.5 995.7L1520.5 995.8L1525.5 995.8L1530.5 995.8L1535.5 995.8L1540.5 995.9L1545.5 995.9L1550.5 995.9L1555.5 996.0L1560.5 996.0L1565.5 996.0L1570.5 996.1L1575.5 996.1L1580.5 996.2L1585.5 996.2L1590.5 996.2L1595.5 996.3L1600.5 996.3L1605.5 996.4L1610.5 996.4L1615.5 996.5L1620.5 996.5L1625.5 996.6L1630.5 996.7L1635.5 996.7L1640.5 996.8L1645.5 996.9L1650.5 996.9L1655.5 997.0L1660.5 997.1L1665.5 997.2L1670.5 997.2L1675.5 997.3L1680.5 997.4L1685.5 997.4L1690.5 997.5L1695.5 997.5L1700.5 997.6L1705.5 997.6L1710.5 997.7L1715.5 997.7L1720.5 997.8L1725.5 997.8L1730.5 997.8L1735.5 997.9L1740.5 997.9L1745.5 998.0L1750.5 998.0L1755.5 998.0L1760.5 998.1L1765.5 998.1L1770.5 998.1L1775.5 998.2L1780.5 998.2L1785.5 998.2L1790.5 998.2L1795.5 998.3L1800.5 998.3L1805.5 998.3L1810.5 998.4L1815.5 998.4L1820.5 998.4L1825.5 998.4L1830.5 998.5L1835.5 998.5L1840.5 998.5L1845.5 998.6L1850.5 998.6L1855.5 998.6L1860.5 998.6L1865.5 998.7L1870.5 998.7L1875.5 998.7L1880.5 998.8L1885.5 998.8L1890.5 998.8L1895.5 998.8L1900.5 998.9L1905.5 998.9L1910.5 998.9L1915.5 998.9L1920.5 999.0L1925.5 999.0L1930.5 999.0L1935.5 999.0L1940.5 999.1L1945.5 999.1L1950.5 999.1L1955.5 999.1L1960.5 999.2L1965.5 999.2L1970.5 999.2L1975.5 999.2L1980.5 999.3L1985.5 999.3L1990.5 999.3L1995.5 999.3L2000.5 999.4L2005.5 999.4L2010.5 999.4L2015.5 999.4L2020.5 999.4L2025.5 999.5L2030.5 999.5L2035.5 999.5L2040.5 999.5L2045.5 999.5L2050.5 999.6L2055.5 999.6L2060.0 999.6" stroke="#8cb083"/>
<path d="M205.5 710.7L210.5 714.4L215.5 717.9L220.5 721.4L225.5 724.7L230.5 728.0L235.5 731.1L240.5 734.2L245.5 737.2L250.5 740.0L255.5 742.9L260.5 745.6L265.5 748.2L270.5 750.8L275.5 753.3L280.5 755.8L285.5 758.2L290.5 760.5L295.5 762.8L300.5 765.1L305.5 767.3L310.5 769.6L315.5 771.8L320.5 774.0L325.5 776.2L330.5 778.3L335.5 780.5L340.5 782.6L345.5 784.7L350.5 786.7L355.5 788.8L360.5 790.8L365.5 792.8L370.5 794.8L375.5 796.8L380.5 798.8L385.5 800.7L390.5 802.7L395.5 804.6L400.5 806.5L405.5 808.4L410.5 810.3L415.5 812.2L420.5 814.0L425.5 815.8L430.5 817.6L435.5 819.3L440.5 821.0L445.5 822.7L450.5 824.4L455.5 826.1L460.5 827.7L465.5 829.4L470.5 831.1L475.5 832.7L480.5 834.4L485.5 836.1L490.5 837.7L495.5 839.4L500.5 841.1L505.5 842.7L510.5 844.3L515.5 846.0L520.5 847.6L525.5 849.2L530.5 850.8L535.5 852.4L540.5 854.0L545.5 855.6L550.5 857.1L555.5 858.7L560.5 860.3L565.5 861.8L570.5 863.4L575.5 865.0L580.5 866.5L585.5 868.0L590.5 869.6L595.5 871.1L600.5 872.6L605.5 874.1L610.5 875.5L615.5 877.0L620.5 878.4L625.5 879.9L630.5 881.3L635.5 882.7L640.5 884.1L645.5 885.5L650.5 887.0L655.5 888.4L660.5 889.8L665.5 891.2L670.5 892.6L675.5 894.0L680.5 895.4L685.5 896.8L690.5 898.2L695.5 899.6L700.5 900.9L705.5 902.3L710.5 903.6L715.5 904.9L720.5 906.2L725.5 907.4L730.5 908.7L735.5 909.9L740.5 911.2L745.5 912.5L750.5 913.8L755.5 915.2L760.5 916.5L765.5 917.8L770.5 919.1L775.5 920.3L780.5 921.5L785.5 922.6L790.5 923.7L795.5 924.8L800.5 925.9L805.5 927.0L810.5 928.1L815.5 929.2L820.5 930.3L825.5 931.4L830.5 932.4L835.5 933.4L840.5 934.5L845.5 935.5L850.5 936.5L855.5 937.5L860.5 938.5L865.5 939.6L870.5 940.7L875.5 941.8L880.5 943.0L885.5 944.2L890.5 945.5L895.5 946.8L900.5 948.1L905.5 949.5L910.5 951.0L915.5 952.5L920.5 954.0L925.5 955.7L930.5 957.3L935.5 959.1L940.5 960.9L945.5 962.7L950.5 964.6L955.5 966.5L960.5 968.4L965.5 970.3L970.5 972.3L975.5 974.4L980.5 976.6L985.5 978.9L990.5 981.4L995.5 984.0L1000.5 986.6L1005.5 989.3L1010.5 992.0L1015.5 994.7L1020.5 997.3L1025.5 999.9L1030.5 1002.4L1035.5 1004.9L1040.5 1007.5L1045.5 1009.9L1050.5 1012.3L1055.5 1014.7L1060.5 1017.1L1065.5 1019.5L1070.5 1021.9L1075.5 1024.4L1080.5 1026.8L1085.5 1029.1L1090.5 1031.5L1095.5 1033.7L1100.5 1036.0L1105.5 1038.1L1110.5 1040.3L1115.5 1042.3L1120.5 1044.3L1125.5 1046.3L1130.5 1048.1L1135.5 1050.0L1140.5 1051.7L1145.5 1053.5L1150.5 1055.1L1155.5 1056.7L1160.5 1058.2L1165.5 1059.7L1170.5 1061.0L1175.5 1062.3L1180.5 1063.5L1185.5 1064.6L1190.5 1065.5L1195.5 1066.4L1200.5 1067.2L1205.5 1068.0L1210.5 1068.7L1215.5 1069.3L1220.5 1069.8L1225.5 1070.2L1230.5 1070.5L1235.5 1070.8L1240.5 1070.9L1245.5 1071.0L1250.5 1071.0L1255.5 1071.1L1260.5 1071.1L1265.5 1071.1L1270.5 1071.1L1275.5 1071.1L1280.5 1071.1L1285.5 1071.1L1290.5 1071.1L1295.5 1071.1L1300.5 1071.1L1305.5 1071.1L1310.5 1071.1L1315.5 1071.1L1320.5 1071.1L1325.5 1071.1L1330.5 1071.1L1335.5 1071.1L1340.5 1071.1L1345.5 1071.1L1350.5 1071.1L1355.5 1071.1L1360.5 1071.1L1365.5 1071.1L1370.5 1071.1L1375.5 1071.1L1380.5 1071.1L1385.5 1071.1L1390.5 1071.1L1395.5 1071.1L1400.5 1071.1L1405.5 1071.1L1410.5 1071.1L1415.5 1071.1L1420.5 1071.1L1425.5 1071.1L1430.5 1071.1L1435.5 1071.1L1440.5 1071.1L1445.5 1071.1L1450.5 1071.1L1455.5 1071.1L1460.5 1071.1L1465.5 1071.1L1470.5 1071.1L1475.5 1071.1L1480.5 1071.2L1485.5 1071.2L1490.5 1071.2L1495.5 1071.2L1500.5 1071.2L1505.5 1071.2L1510.5 1071.2L1515.5 1071.2L1520.5 1071.2L1525.5 1071.2L1530.5 1071.2L1535.5 1071.2L1540.5 1071.2L1545.5 1071.3L1550.5 1071.3L1555.5 1071.3L1560.5 1071.3L1565.5 1071.3L1570.5 1071.3L1575.5 1071.3L1580.5 1071.3L1585.5 1071.3L1590.5 1071.4L1595.5 1071.4L1600.5 1071.4L1605.5 1071.4L1610.5 1071.4L1615.5 1071.4L1620.5 1071.4L1625.5 1071.4L1630.5 1071.4L1635.5 1071.5L1640.5 1071.5L1645.5 1071.5L1650.5 1071.5L1655.5 1071.5L1660.5 1071.5L1665.5 1071.5L1670.5 1071.5L1675.5 1071.6L1680.5 1071.6L1685.5 1071.6L1690.5 1071.6L1695.5 1071.6L1700.5 1071.6L1705.5 1071.6L1710.5 1071.6L1715.5 1071.7L1720.5 1071.7L1725.5 1071.7L1730.5 1071.7L1735.5 1071.7L1740.5 1071.7L1745.5 1071.7L1750.5 1071.7L1755.5 1071.7L1760.5 1071.8L1765.5 1071.8L1770.5 1071.8L1775.5 1071.8L1780.5 1071.8L1785.5 1071.8L1790.5 1071.8L1795.5 1071.8L1800.5 1071.8L1805.5 1071.8L1810.5 1071.9L1815.5 1071.9L1820.5 1071.9L1825.5 1071.9L1830.5 1071.9L1835.5 1071.9L1840.5 1071.9L1845.5 1071.9L1850.5 1071.9L1855.5 1071.9L1860.5 1071.9L1865.5 1071.9L1870.5 1072.0L1875.5 1072.0L1880.5 1072.0L1885.5 1072.0L1890.5 1072.0L1895.5 1072.0L1900.5 1072.0L1905.5 1072.0L1910.5 1072.0L1915.5 1072.0L1920.5 1072.0L1925.5 1072.0L1930.5 1072.0L1935.5 1072.0L1940.5 1072.1L1945.5 1072.1L1950.5 1072.1L1955.5 1072.1L1960.5 1072.1L1965.5 1072.1L1970.5 1072.1L1975.5 1072.1L1980.5 1072.1L1985.5 1072.1L1990.5 1072.1L1995.5 1072.1L2000.5 1072.1L2005.5 1072.1L2010.5 1072.1L2015.5 1072.2L2020.5 1072.2L2025.5 1072.2L2030.5 1072.2L2035.5 1072.2L2040.5 1072.2L2045.5 1072.2L2050.5 1072.2L2052.0 1072.2" stroke="#7d4196" stroke-dasharray="13.83 20.7"/>
<path d="M205.5 703.5L210.5 706.6L215.5 709.8L220.5 713.0L225.5 716.2L230.5 719.5L235.5 722.8L240.5 726.0L245.5 729.1L250.5 732.2L255.5 735.1L260.5 737.9L265.5 740.6L270.5 743.1L275.5 745.5L280.5 747.8L285.5 750.2L290.5 752.4L295.5 754.7L300.5 757.0L305.5 759.2L310.5 761.5L315.5 763.7L320.5 766.0L325.5 768.2L330.5 770.3L335.5 772.4L340.5 774.5L345.5 776.5L350.5 778.5L355.5 780.6L360.5 782.6L365.5 784.7L370.5 786.7L375.5 788.7L380.5 790.6L385.5 792.5L390.5 794.4L395.5 796.3L400.5 798.1L405.5 799.9L410.5 801.8L415.5 803.7L420.5 805.6L425.5 807.5L430.5 809.4L435.5 811.2L440.5 812.9L445.5 814.7L450.5 816.4L455.5 818.2L460.5 819.9L465.5 821.7L470.5 823.5L475.5 825.3L480.5 827.0L485.5 828.7L490.5 830.3L495.5 831.9L500.5 833.4L505.5 835.0L510.5 836.6L515.5 838.2L520.5 839.8L525.5 841.5L530.5 843.1L535.5 844.8L540.5 846.4L545.5 848.0L550.5 849.5L555.5 851.1L560.5 852.6L565.5 854.1L570.5 855.7L575.5 857.3L580.5 858.8L585.5 860.4L590.5 861.9L595.5 863.4L600.5 864.9L605.5 866.4L610.5 867.9L615.5 869.4L620.5 870.9L625.5 872.4L630.5 873.9L635.5 875.4L640.5 876.8L645.5 878.2L650.5 879.6L655.5 880.9L660.5 882.2L665.5 883.5L670.5 884.9L675.5 886.2L680.5 887.6L685.5 889.0L690.5 890.3L695.5 891.7L700.5 892.9L705.5 894.2L710.5 895.4L715.5 896.6L720.5 897.8L725.5 899.1L730.5 900.4L735.5 901.7L740.5 903.0L745.5 904.3L750.5 905.6L755.5 906.8L760.5 908.1L765.5 909.3L770.5 910.5L775.5 911.7L780.5 912.9L785.5 914.1L790.5 915.3L795.5 916.5L800.5 917.7L805.5 918.9L810.5 920.0L815.5 921.1L820.5 922.2L825.5 923.2L830.5 924.3L835.5 925.3L840.5 926.3L845.5 927.4L850.5 928.4L855.5 929.5L860.5 930.6L865.5 931.6L870.5 932.7L875.5 933.9L880.5 935.0L885.5 936.2L890.5 937.4L895.5 938.6L900.5 939.9L905.5 941.2L910.5 942.7L915.5 944.1L920.5 945.7L925.5 947.4L930.5 949.1L935.5 950.9L940.5 952.7L945.5 954.6L950.5 956.5L955.5 958.5L960.5 960.6L965.5 962.7L970.5 964.9L975.5 967.2L980.5 969.5L985.5 971.8L990.5 974.1L995.5 976.4L1000.5 978.7L1005.5 981.0L1010.5 983.4L1015.5 985.8L1020.5 988.3L1025.5 990.9L1030.5 993.5L1035.5 996.2L1040.5 998.8L1045.5 1001.3L1050.5 1003.8L1055.5 1006.3L1060.5 1008.8L1065.5 1011.3L1070.5 1013.8L1075.5 1016.2L1080.5 1018.6L1085.5 1020.9L1090.5 1023.1L1095.5 1025.2L1100.5 1027.3L1105.5 1029.3L1110.5 1031.3L1115.5 1033.4L1120.5 1035.5L1125.5 1037.6L1130.5 1039.7L1135.5 1041.6L1140.5 1043.5L1145.5 1045.2L1150.5 1046.8L1155.5 1048.3L1160.5 1049.7L1165.5 1051.1L1170.5 1052.4L1175.5 1053.7L1180.5 1054.9L1185.5 1056.1L1190.5 1057.1L1195.5 1058.1L1200.5 1058.9L1205.5 1059.7L1210.5 1060.3L1215.5 1060.9L1220.5 1061.4L1225.5 1061.8L1230.5 1062.1L1235.5 1062.3L1240.5 1062.5L1245.5 1062.6L1250.5 1062.7L1255.5 1062.8L1260.5 1062.8L1265.5 1062.8L1270.5 1062.8L1275.5 1062.8L1280.5 1062.8L1285.5 1062.8L1290.5 1062.8L1295.5 1062.8L1300.5 1062.8L1305.5 1062.8L1310.5 1062.8L1315.5 1062.8L1320.5 1062.8L1325.5 1062.8L1330.5 1062.9L1335.5 1062.9L1340.5 1062.9L1345.5 1062.9L1350.5 1062.9L1355.5 1062.9L1360.5 1062.9L1365.5 1062.9L1370.5 1062.9L1375.5 1062.9L1380.5 1063.0L1385.5 1063.0L1390.5 1063.0L1395.5 1063.0L1400.5 1063.0L1405.5 1063.0L1410.5 1063.0L1415.5 1063.0L1420.5 1063.1L1425.5 1063.1L1430.5 1063.1L1435.5 1063.1L1440.5 1063.1L1445.5 1063.2L1450.5 1063.2L1455.5 1063.2L1460.5 1063.2L1465.5 1063.2L1470.5 1063.3L1475.5 1063.3L1480.5 1063.3L1485.5 1063.4L1490.5 1063.4L1495.5 1063.4L1500.5 1063.4L1505.5 1063.5L1510.5 1063.5L1515.5 1063.5L1520.5 1063.6L1525.5 1063.6L1530.5 1063.6L1535.5 1063.7L1540.5 1063.7L1545.5 1063.7L1550.5 1063.8L1555.5 1063.8L1560.5 1063.8L1565.5 1063.9L1570.5 1063.9L1575.5 1064.0L1580.5 1064.0L1585.5 1064.0L1590.5 1064.1L1595.5 1064.1L1600.5 1064.2L1605.5 1064.2L1610.5 1064.2L1615.5 1064.3L1620.5 1064.3L1625.5 1064.4L1630.5 1064.4L1635.5 1064.5L1640.5 1064.5L1645.5 1064.5L1650.5 1064.6L1655.5 1064.6L1660.5 1064.7L1665.5 1064.7L1670.5 1064.8L1675.5 1064.8L1680.5 1064.8L1685.5 1064.9L1690.5 1064.9L1695.5 1065.0L1700.5 1065.0L1705.5 1065.1L1710.5 1065.1L1715.5 1065.1L1720.5 1065.2L1725.5 1065.2L1730.5 1065.3L1735.5 1065.3L1740.5 1065.4L1745.5 1065.4L1750.5 1065.4L1755.5 1065.5L1760.5 1065.5L1765.5 1065.6L1770.5 1065.6L1775.5 1065.6L1780.5 1065.7L1785.5 1065.7L1790.5 1065.8L1795.5 1065.8L1800.5 1065.8L1805.5 1065.9L1810.5 1065.9L1815.5 1066.0L1820.5 1066.0L1825.5 1066.0L1830.5 1066.1L1835.5 1066.1L1840.5 1066.1L1845.5 1066.2L1850.5 1066.2L1855.5 1066.2L1860.5 1066.3L1865.5 1066.3L1870.5 1066.3L1875.5 1066.4L1880.5 1066.4L1885.5 1066.5L1890.5 1066.5L1895.5 1066.5L1900.5 1066.6L1905.5 1066.6L1910.5 1066.6L1915.5 1066.7L1920.5 1066.7L1925.5 1066.7L1930.5 1066.8L1935.5 1066.8L1940.5 1066.8L1945.5 1066.9L1950.5 1066.9L1955.5 1066.9L1960.5 1067.0L1965.5 1067.0L1970.5 1067.0L1975.5 1067.1L1980.5 1067.1L1985.5 1067.1L1990.5 1067.2L1995.5 1067.2L2000.5 1067.2L2005.5 1067.3L2010.5 1067.3L2015.5 1067.3L2020.5 1067.4L2025.5 1067.4L2030.5 1067.5L2035.5 1067.5L2040.5 1067.5L2045.5 1067.6L2050.5 1067.6L2052.0 1067.6" stroke="#00936e" stroke-dasharray="34.53 20.7"/>
<path d="M205.5 690.8L210.5 694.2L215.5 697.6L220.5 701.0L225.5 704.2L230.5 707.4L235.5 710.6L240.5 713.6L245.5 716.5L250.5 719.2L255.5 721.9L260.5 724.5L265.5 727.0L270.5 729.3L275.5 731.7L280.5 733.9L285.5 736.2L290.5 738.3L295.5 740.5L300.5 742.6L305.5 744.8L310.5 746.9L315.5 748.9L320.5 751.0L325.5 753.0L330.5 755.0L335.5 757.0L340.5 759.0L345.5 761.0L350.5 762.9L355.5 764.9L360.5 766.8L365.5 768.7L370.5 770.6L375.5 772.5L380.5 774.4L385.5 776.2L390.5 778.1L395.5 779.9L400.5 781.8L405.5 783.6L410.5 785.4L415.5 787.2L420.5 789.0L425.5 790.9L430.5 792.7L435.5 794.5L440.5 796.3L445.5 798.1L450.5 799.9L455.5 801.7L460.5 803.5L465.5 805.3L470.5 807.1L475.5 808.9L480.5 810.7L485.5 812.5L490.5 814.3L495.5 816.0L500.5 817.7L505.5 819.4L510.5 821.1L515.5 822.8L520.5 824.4L525.5 826.1L530.5 827.7L535.5 829.3L540.5 830.9L545.5 832.5L550.5 834.1L555.5 835.7L560.5 837.3L565.5 838.9L570.5 840.5L575.5 842.0L580.5 843.6L585.5 845.2L590.5 846.7L595.5 848.3L600.5 849.8L605.5 851.3L610.5 852.9L615.5 854.4L620.5 855.9L625.5 857.4L630.5 858.9L635.5 860.4L640.5 861.9L645.5 863.4L650.5 864.9L655.5 866.4L660.5 867.9L665.5 869.4L670.5 870.9L675.5 872.5L680.5 874.0L685.5 875.5L690.5 877.0L695.5 878.4L700.5 879.9L705.5 881.3L710.5 882.8L715.5 884.2L720.5 885.6L725.5 887.0L730.5 888.4L735.5 889.7L740.5 891.0L745.5 892.4L750.5 893.7L755.5 894.9L760.5 896.2L765.5 897.4L770.5 898.7L775.5 899.9L780.5 901.0L785.5 902.2L790.5 903.3L795.5 904.3L800.5 905.3L805.5 906.3L810.5 907.3L815.5 908.2L820.5 909.1L825.5 910.1L830.5 911.0L835.5 911.9L840.5 912.9L845.5 913.9L850.5 915.0L855.5 916.1L860.5 917.2L865.5 918.4L870.5 919.6L875.5 920.9L880.5 922.2L885.5 923.6L890.5 925.1L895.5 926.6L900.5 928.2L905.5 929.9L910.5 931.7L915.5 933.5L920.5 935.4L925.5 937.3L930.5 939.3L935.5 941.3L940.5 943.4L945.5 945.5L950.5 947.7L955.5 950.0L960.5 952.3L965.5 954.7L970.5 957.1L975.5 959.6L980.5 962.1L985.5 964.6L990.5 967.1L995.5 969.7L1000.5 972.2L1005.5 974.7L1010.5 977.2L1015.5 979.7L1020.5 982.2L1025.5 984.7L1030.5 987.2L1035.5 989.7L1040.5 992.2L1045.5 994.7L1050.5 997.2L1055.5 999.7L1060.5 1002.2L1065.5 1004.7L1070.5 1007.1L1075.5 1009.5L1080.5 1011.8L1085.5 1014.2L1090.5 1016.5L1095.5 1018.7L1100.5 1020.9L1105.5 1023.1L1110.5 1025.2L1115.5 1027.2L1120.5 1029.2L1125.5 1031.1L1130.5 1033.0L1135.5 1034.8L1140.5 1036.5L1145.5 1038.1L1150.5 1039.7L1155.5 1041.1L1160.5 1042.5L1165.5 1043.8L1170.5 1045.0L1175.5 1046.1L1180.5 1047.2L1185.5 1048.2L1190.5 1049.1L1195.5 1049.9L1200.5 1050.7L1205.5 1051.4L1210.5 1052.0L1215.5 1052.6L1220.5 1053.1L1225.5 1053.5L1230.5 1053.8L1235.5 1054.1L1240.5 1054.4L1245.5 1054.6L1250.5 1054.8L1255.5 1054.9L1260.5 1055.0L1265.5 1055.1L1270.5 1055.2L1275.5 1055.2L1280.5 1055.3L1285.5 1055.3L1290.5 1055.3L1295.5 1055.4L1300.5 1055.4L1305.5 1055.4L1310.5 1055.4L1315.5 1055.4L1320.5 1055.5L1325.5 1055.5L1330.5 1055.5L1335.5 1055.5L1340.5 1055.5L1345.5 1055.6L1350.5 1055.6L1355.5 1055.6L1360.5 1055.6L1365.5 1055.7L1370.5 1055.7L1375.5 1055.7L1380.5 1055.7L1385.5 1055.7L1390.5 1055.8L1395.5 1055.8L1400.5 1055.8L1405.5 1055.8L1410.5 1055.9L1415.5 1055.9L1420.5 1055.9L1425.5 1055.9L1430.5 1056.0L1435.5 1056.0L1440.5 1056.0L1445.5 1056.0L1450.5 1056.1L1455.5 1056.1L1460.5 1056.1L1465.5 1056.2L1470.5 1056.2L1475.5 1056.2L1480.5 1056.2L1485.5 1056.3L1490.5 1056.3L1495.5 1056.3L1500.5 1056.4L1505.5 1056.4L1510.5 1056.4L1515.5 1056.4L1520.5 1056.5L1525.5 1056.5L1530.5 1056.5L1535.5 1056.6L1540.5 1056.6L1545.5 1056.6L1550.5 1056.7L1555.5 1056.7L1560.5 1056.7L1565.5 1056.8L1570.5 1056.8L1575.5 1056.8L1580.5 1056.8L1585.5 1056.9L1590.5 1056.9L1595.5 1056.9L1600.5 1057.0L1605.5 1057.0L1610.5 1057.0L1615.5 1057.1L1620.5 1057.1L1625.5 1057.1L1630.5 1057.2L1635.5 1057.2L1640.5 1057.2L1645.5 1057.3L1650.5 1057.3L1655.5 1057.3L1660.5 1057.4L1665.5 1057.4L1670.5 1057.4L1675.5 1057.5L1680.5 1057.5L1685.5 1057.6L1690.5 1057.6L1695.5 1057.6L1700.5 1057.7L1705.5 1057.7L1710.5 1057.7L1715.5 1057.8L1720.5 1057.8L1725.5 1057.8L1730.5 1057.9L1735.5 1057.9L1740.5 1057.9L1745.5 1058.0L1750.5 1058.0L1755.5 1058.0L1760.5 1058.1L1765.5 1058.1L1770.5 1058.1L1775.5 1058.2L1780.5 1058.2L1785.5 1058.3L1790.5 1058.3L1795.5 1058.3L1800.5 1058.4L1805.5 1058.4L1810.5 1058.4L1815.5 1058.5L1820.5 1058.5L1825.5 1058.5L1830.5 1058.6L1835.5 1058.6L1840.5 1058.6L1845.5 1058.7L1850.5 1058.7L1855.5 1058.7L1860.5 1058.8L1865.5 1058.8L1870.5 1058.9L1875.5 1058.9L1880.5 1058.9L1885.5 1059.0L1890.5 1059.0L1895.5 1059.0L1900.5 1059.1L1905.5 1059.1L1910.5 1059.1L1915.5 1059.2L1920.5 1059.2L1925.5 1059.3L1930.5 1059.3L1935.5 1059.3L1940.5 1059.4L1945.5 1059.4L1950.5 1059.4L1955.5 1059.5L1960.5 1059.5L1965.5 1059.6L1970.5 1059.6L1975.5 1059.6L1980.5 1059.7L1985.5 1059.7L1990.5 1059.8L1995.5 1059.8L2000.5 1059.8L2005.5 1059.9L2010.5 1059.9L2015.5 1059.9L2020.5 1060.0L2025.5 1060.0L2030.5 1060.1L2035.5 1060.1L2040.5 1060.1L2045.5 1060.2L2050.5 1060.2L2055.5 1060.3L2060.0 1060.3" stroke="#fa1a4a"/>
<path d="M205.5 675.7L210.5 680.2L215.5 684.5L220.5 688.8L225.5 692.8L230.5 696.7L235.5 700.3L240.5 703.8L245.5 707.1L250.5 710.2L255.5 713.2L260.5 716.0L265.5 718.7L270.5 721.3L275.5 723.8L280.5 726.2L285.5 728.5L290.5 730.8L295.5 733.1L300.5 735.3L305.5 737.6L310.5 739.8L315.5 742.0L320.5 744.1L325.5 746.3L330.5 748.4L335.5 750.5L340.5 752.5L345.5 754.5L350.5 756.5L355.5 758.4L360.5 760.2L365.5 762.1L370.5 763.9L375.5 765.6L380.5 767.4L385.5 769.1L390.5 770.8L395.5 772.5L400.5 774.1L405.5 775.8L410.5 777.4L415.5 779.0L420.5 780.6L425.5 782.1L430.5 783.7L435.5 785.2L440.5 786.8L445.5 788.3L450.5 789.8L455.5 791.3L460.5 792.8L465.5 794.3L470.5 795.7L475.5 797.2L480.5 798.7L485.5 800.2L490.5 801.7L495.5 803.2L500.5 804.6L505.5 806.1L510.5 807.6L515.5 809.1L520.5 810.5L525.5 812.0L530.5 813.4L535.5 814.9L540.5 816.3L545.5 817.7L550.5 819.1L555.5 820.5L560.5 821.9L565.5 823.3L570.5 824.7L575.5 826.0L580.5 827.3L585.5 828.7L590.5 830.0L595.5 831.3L600.5 832.5L605.5 833.8L610.5 835.1L615.5 836.5L620.5 837.8L625.5 839.1L630.5 840.5L635.5 841.9L640.5 843.3L645.5 844.7L650.5 846.1L655.5 847.5L660.5 848.9L665.5 850.3L670.5 851.7L675.5 853.1L680.5 854.5L685.5 855.8L690.5 857.2L695.5 858.5L700.5 859.9L705.5 861.3L710.5 862.7L715.5 864.1L720.5 865.5L725.5 866.9L730.5 868.3L735.5 869.7L740.5 871.1L745.5 872.5L750.5 873.9L755.5 875.3L760.5 876.6L765.5 878.0L770.5 879.3L775.5 880.7L780.5 882.1L785.5 883.6L790.5 885.1L795.5 886.6L800.5 888.1L805.5 889.7L810.5 891.3L815.5 893.0L820.5 894.6L825.5 896.3L830.5 898.0L835.5 899.6L840.5 901.3L845.5 903.0L850.5 904.6L855.5 906.3L860.5 908.0L865.5 909.7L870.5 911.5L875.5 913.2L880.5 915.0L885.5 916.9L890.5 918.8L895.5 920.7L900.5 922.6L905.5 924.6L910.5 926.5L915.5 928.5L920.5 930.4L925.5 932.4L930.5 934.4L935.5 936.3L940.5 938.3L945.5 940.3L950.5 942.3L955.5 944.4L960.5 946.5L965.5 948.8L970.5 951.0L975.5 953.4L980.5 955.7L985.5 958.0L990.5 960.3L995.5 962.6L1000.5 964.8L1005.5 967.0L1010.5 969.1L1015.5 971.2L1020.5 973.2L1025.5 975.3L1030.5 977.3L1035.5 979.3L1040.5 981.3L1045.5 983.4L1050.5 985.4L1055.5 987.4L1060.5 989.4L1065.5 991.3L1070.5 993.3L1075.5 995.2L1080.5 997.1L1085.5 999.0L1090.5 1000.9L1095.5 1002.7L1100.5 1004.6L1105.5 1006.5L1110.5 1008.3L1115.5 1010.1L1120.5 1011.8L1125.5 1013.5L1130.5 1015.1L1135.5 1016.7L1140.5 1018.2L1145.5 1019.7L1150.5 1021.1L1155.5 1022.5L1160.5 1023.9L1165.5 1025.2L1170.5 1026.5L1175.5 1027.7L1180.5 1028.9L1185.5 1030.1L1190.5 1031.3L1195.5 1032.4L1200.5 1033.5L1205.5 1034.5L1210.5 1035.5L1215.5 1036.4L1220.5 1037.3L1225.5 1038.1L1230.5 1038.8L1235.5 1039.5L1240.5 1040.0L1245.5 1040.5L1250.5 1040.9L1255.5 1041.3L1260.5 1041.7L1265.5 1042.0L1270.5 1042.3L1275.5 1042.6L1280.5 1042.8L1285.5 1043.0L1290.5 1043.2L1295.5 1043.3L1300.5 1043.4L1305.5 1043.4L1310.5 1043.5L1315.5 1043.5L1320.5 1043.5L1325.5 1043.5L1330.5 1043.5L1335.5 1043.5L1340.5 1043.5L1345.5 1043.5L1350.5 1043.5L1355.5 1043.5L1360.5 1043.6L1365.5 1043.6L1370.5 1043.6L1375.5 1043.6L1380.5 1043.6L1385.5 1043.7L1390.5 1043.7L1395.5 1043.7L1400.5 1043.8L1405.5 1043.8L1410.5 1043.8L1415.5 1043.9L1420.5 1043.9L1425.5 1043.9L1430.5 1044.0L1435.5 1044.0L1440.5 1044.0L1445.5 1044.1L1450.5 1044.1L1455.5 1044.2L1460.5 1044.2L1465.5 1044.2L1470.5 1044.3L1475.5 1044.3L1480.5 1044.4L1485.5 1044.4L1490.5 1044.4L1495.5 1044.5L1500.5 1044.5L1505.5 1044.5L1510.5 1044.6L1515.5 1044.6L1520.5 1044.6L1525.5 1044.7L1530.5 1044.7L1535.5 1044.8L1540.5 1044.8L1545.5 1044.8L1550.5 1044.9L1555.5 1044.9L1560.5 1045.0L1565.5 1045.0L1570.5 1045.0L1575.5 1045.1L1580.5 1045.1L1585.5 1045.2L1590.5 1045.2L1595.5 1045.2L1600.5 1045.3L1605.5 1045.3L1610.5 1045.4L1615.5 1045.4L1620.5 1045.5L1625.5 1045.5L1630.5 1045.5L1635.5 1045.6L1640.5 1045.6L1645.5 1045.7L1650.5 1045.7L1655.5 1045.8L1660.5 1045.8L1665.5 1045.9L1670.5 1045.9L1675.5 1045.9L1680.5 1046.0L1685.5 1046.0L1690.5 1046.1L1695.5 1046.1L1700.5 1046.2L1705.5 1046.2L1710.5 1046.3L1715.5 1046.3L1720.5 1046.4L1725.5 1046.4L1730.5 1046.5L1735.5 1046.5L1740.5 1046.5L1745.5 1046.6L1750.5 1046.6L1755.5 1046.7L1760.5 1046.7L1765.5 1046.8L1770.5 1046.8L1775.5 1046.9L1780.5 1046.9L1785.5 1047.0L1790.5 1047.0L1795.5 1047.0L1800.5 1047.1L1805.5 1047.1L1810.5 1047.2L1815.5 1047.2L1820.5 1047.3L1825.5 1047.3L1830.5 1047.4L1835.5 1047.4L1840.5 1047.4L1845.5 1047.5L1850.5 1047.5L1855.5 1047.6L1860.5 1047.6L1865.5 1047.7L1870.5 1047.7L1875.5 1047.8L1880.5 1047.8L1885.5 1047.8L1890.5 1047.9L1895.5 1047.9L1900.5 1048.0L1905.5 1048.0L1910.5 1048.1L1915.5 1048.1L1920.5 1048.1L1925.5 1048.2L1930.5 1048.2L1935.5 1048.3L1940.5 1048.3L1945.5 1048.4L1950.5 1048.4L1955.5 1048.5L1960.5 1048.5L1965.5 1048.5L1970.5 1048.6L1975.5 1048.6L1980.5 1048.7L1985.5 1048.7L1990.5 1048.8L1995.5 1048.8L2000.5 1048.8L2005.5 1048.9L2010.5 1048.9L2015.5 1049.0L2020.5 1049.0L2025.5 1049.1L2030.5 1049.1L2035.5 1049.2L2040.5 1049.2L2045.5 1049.2L2050.5 1049.3L2052.0 1049.3" stroke="#cc8558" stroke-dasharray="34.53 20.7 6.9 6.9 6.9 20.7"/>
</g>
<line x1="1266.3" y1="105.9" x2="1433.5" y2="104.8" stroke="#9c8068" stroke-width="6.6"/>
<line x1="1266.3" y1="162.7" x2="1433.5" y2="161.6" stroke="#ff9966" stroke-width="6.6"/>
<line x1="1266.3" y1="209.2" x2="1433.5" y2="208.2" stroke="#009640" stroke-width="6.6"/>
<line x1="1266.3" y1="260.4" x2="1433.5" y2="259.3" stroke="#a8407c" stroke-width="6.6"/>
<line x1="1266.3" y1="313.0" x2="1433.5" y2="311.9" stroke="#007fc8" stroke-width="6.6"/>
<line x1="1793.2" y1="110.1" x2="1625.8" y2="111.6" stroke="#8cb083" stroke-width="6.6"/>
<line x1="1793.2" y1="150.8" x2="1625.8" y2="152.6" stroke="#ff1e14" stroke-width="6.6"/>
<line x1="1793.2" y1="209.2" x2="1625.8" y2="211.3" stroke="#00936e" stroke-width="6.6" stroke-dasharray="34.7 20.8"/>
<line x1="1793.2" y1="257.4" x2="1625.8" y2="258.7" stroke="#7d4196" stroke-width="6.6" stroke-dasharray="13.9 20.8"/>
<line x1="1793.2" y1="301.4" x2="1625.8" y2="302.5" stroke="#cc8558" stroke-width="6.6" stroke-dasharray="34.7 20.8 6.94 6.94 6.94 20.8"/>
<line x1="1629.6" y1="361.4" x2="1789.4" y2="361.4" stroke="#1a1210" stroke-width="6.7" stroke-dasharray="6.7 7.18"/>
<text id="x100" x="156.72" y="1339.9" font-size="61.0" letter-spacing="1.05">100</text>
<text id="x5000" x="459.12" y="1339.9" font-size="61.0" letter-spacing="1.87">5000</text>
<text id="x10000" x="727.92" y="1339.9" font-size="61.0" letter-spacing="1.52">10,000</text>
<text id="x15000" x="1064.32" y="1339.9" font-size="61.0" letter-spacing="1.50">15,000</text>
<text id="x20000" x="1369.92" y="1336.8" font-size="61.0" letter-spacing="2.08">20,000</text>
<text id="x25000" x="1673.72" y="1336.8" font-size="61.0" letter-spacing="2.30">25,000</text>
<text id="x30000" x="1978.92" y="1336.8" font-size="61.0" letter-spacing="2.10">30,000</text>
<text id="xlabel" x="1049.56" y="1410.8" font-size="58.0" letter-spacing="3.19">Iterations</text>
<text id="y10_0" x="90.96" y="392.4" font-size="60.5" letter-spacing="0.00">10</text>
<text id="y10_1" x="90.96" y="733.2" font-size="60.5" letter-spacing="0.00">10</text>
<text id="y10_2" x="90.96" y="1097.1" font-size="60.5" letter-spacing="0.00">10</text>
<text id="ymin_0" x="153.16" y="365.3" font-size="33.0" letter-spacing="0.00">−</text>
<text id="ysup_0" x="170.38" y="364.1" font-size="31.5" letter-spacing="0.00">1</text>
<text id="ymin_1" x="153.16" y="705.5" font-size="33.0" letter-spacing="0.00">−</text>
<text id="ysup_1" x="171.73" y="704.3" font-size="31.5" letter-spacing="0.00">2</text>
<text id="ymin_2" x="153.16" y="1069.9" font-size="33.0" letter-spacing="0.00">−</text>
<text id="ysup_2" x="170.98" y="1068.7" font-size="31.5" letter-spacing="0.00">3</text>
<text id="mse" transform="translate(61.6 764.80) rotate(-90)" font-size="60" letter-spacing="1.85">MSE</text>
<text id="t_number" x="1416.08" y="74.5" font-size="39.0" letter-spacing="1.90">Number</text>
<text id="t_of" x="1564.68" y="74.5" font-size="39.0" letter-spacing="3.40">of</text>
<text id="t_hidden" x="1617.08" y="74.5" font-size="39.0" letter-spacing="1.98">Hidden</text>
<text id="t_layers" x="1751.88" y="74.5" font-size="39.0" letter-spacing="2.00">Layers</text>
<text id="l1" x="1452.38" y="112.0" font-size="39.0" letter-spacing="0.00">1</text>
<text id="l2" x="1452.73" y="172.4" font-size="39.0" letter-spacing="0.00">2</text>
<text id="l3" x="1452.03" y="218.7" font-size="39.0" letter-spacing="0.00">3</text>
<text id="l4" x="1452.13" y="267.3" font-size="39.0" letter-spacing="0.00">4</text>
<text id="l5" x="1452.03" y="324.4" font-size="39.0" letter-spacing="0.00">5</text>
<text id="l6" x="1817.53" y="120.1" font-size="39.0" letter-spacing="0.00">6</text>
<text id="l7" x="1816.68" y="167.8" font-size="39.0" letter-spacing="0.00">7</text>
<text id="l8" x="1817.18" y="215.9" font-size="39.0" letter-spacing="0.00">8</text>
<text id="l9" x="1817.53" y="272.6" font-size="39.0" letter-spacing="0.00">9</text>
<text id="l10" x="1817.88" y="316.6" font-size="39.0" letter-spacing="2.00">10</text>
<text id="t_target" x="1816.48" y="372.2" font-size="39.0" letter-spacing="1.96">Target</text>
<text id="t_value" x="1944.68" y="372.2" font-size="39.0" letter-spacing="1.97">value</text>
</svg></body></html>
